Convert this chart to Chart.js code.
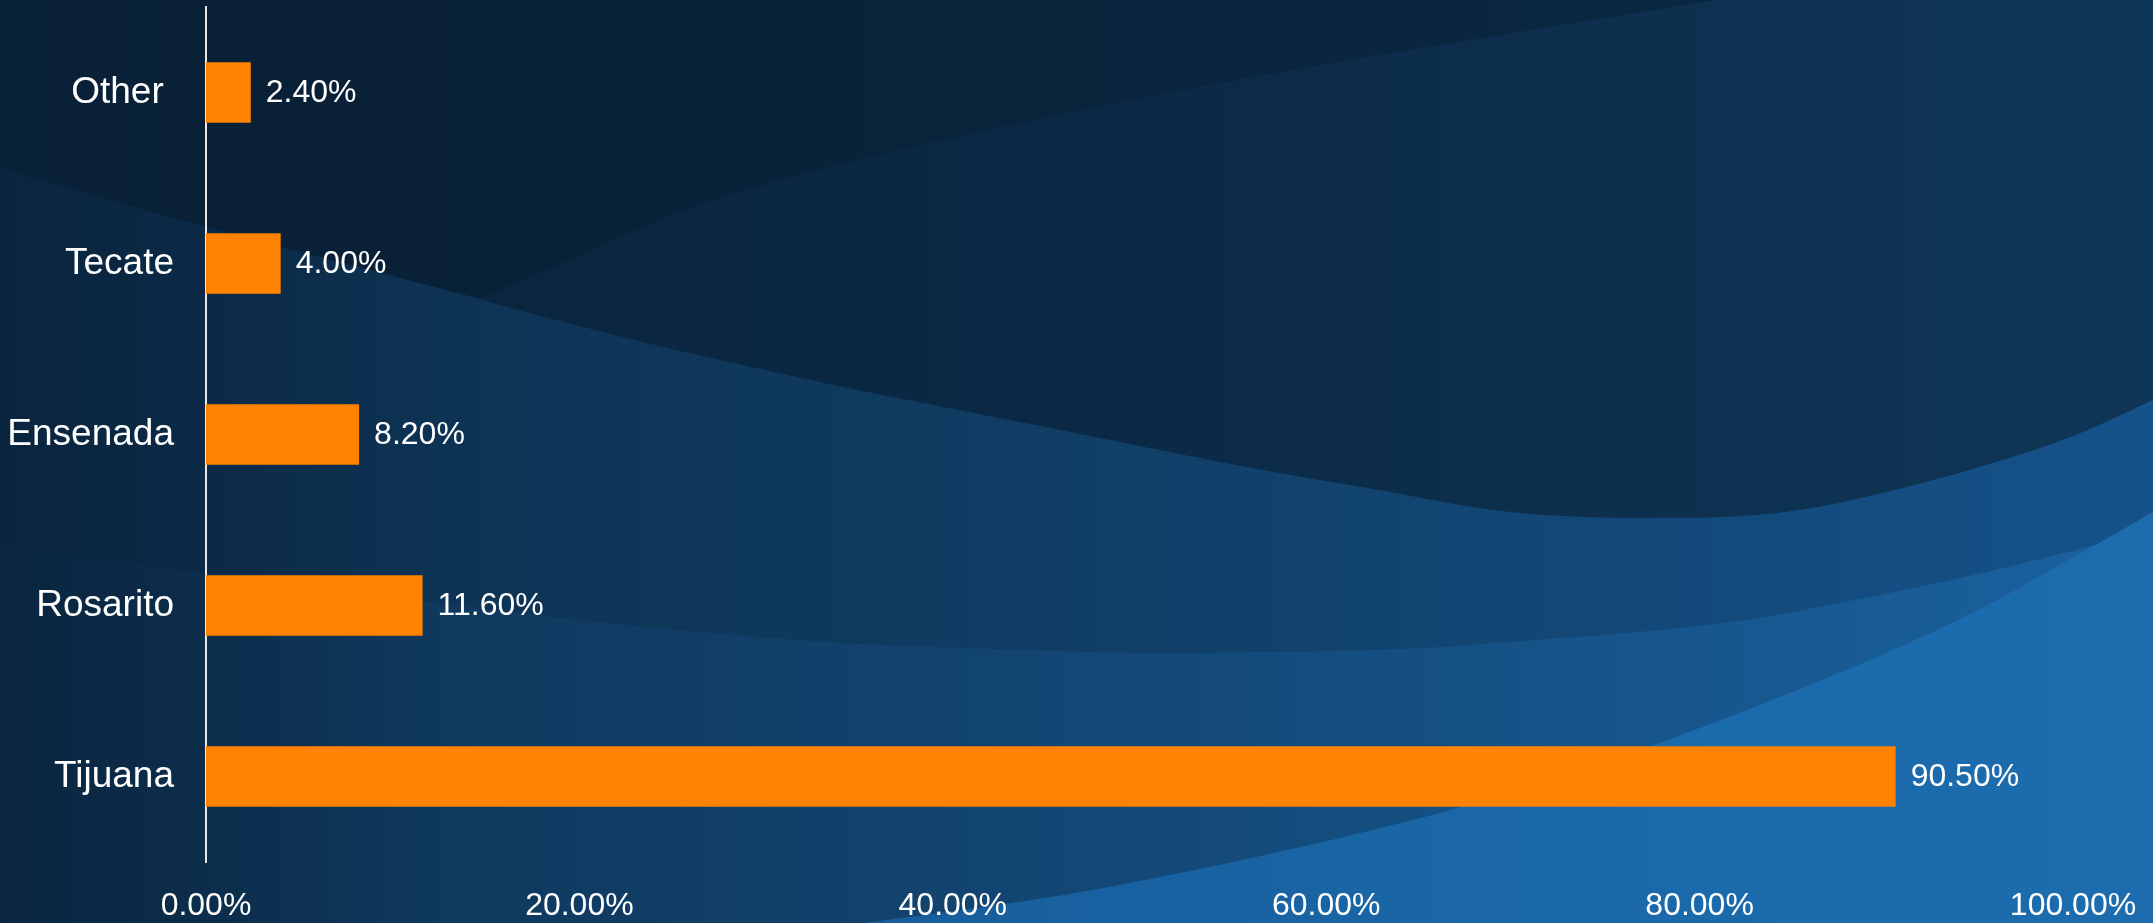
<!DOCTYPE html>
<html>
<head>
<meta charset="utf-8">
<title>Baja California</title>
<script src="https://cdn.jsdelivr.net/npm/chart.js@4.4.1/dist/chart.umd.min.js"></script>
<style>
  html, body { margin: 0; padding: 0; background: #0d2d4b; overflow: hidden; }
  #wrap { position: relative; width: 2153px; height: 923px; }
</style>
</head>
<body>
<div id="wrap"><canvas id="bar-chart"></canvas></div>
<script>
// Chart data (top to bottom)
const cities = ["Other ", "Tecate", "Ensenada", "Rosarito", "Tijuana"];
const shares = [2.4, 4.0, 8.2, 11.6, 90.5];
const xTicks = [0, 20, 40, 60, 80, 100];

Chart.defaults.font.family = "'Liberation Sans', Arial, sans-serif";
Chart.defaults.color = "#ffffff";

// smooth curve through a list of points (catmull-rom -> bezier)
function curveThrough(ctx, pts) {
  for (let i = 0; i < pts.length - 1; i++) {
    const p0 = pts[i - 1] || pts[i];
    const p1 = pts[i];
    const p2 = pts[i + 1];
    const p3 = pts[i + 2] || p2;
    ctx.bezierCurveTo(
      p1[0] + (p2[0] - p0[0]) / 6, p1[1] + (p2[1] - p0[1]) / 6,
      p2[0] - (p3[0] - p1[0]) / 6, p2[1] - (p3[1] - p1[1]) / 6,
      p2[0], p2[1]
    );
  }
}

function hGrad(ctx, w, stops) {
  const g = ctx.createLinearGradient(0, 0, w, 0);
  stops.forEach((s) => g.addColorStop(s[0], s[1]));
  return g;
}

// background swooshes
const backdrop = {
  id: "backdrop",
  beforeDraw(chart) {
    const ctx = chart.ctx;
    const w = chart.width;
    const h = chart.height;
    ctx.save();

    // middle band (base)
    ctx.fillStyle = hGrad(ctx, w, [[0, "#0c2b48"], [0.45, "#0f3c62"], [1, "#15528a"]]);
    ctx.fillRect(0, 0, w, h);

    // top dark region
    const topCurve = [[0, 168], [206, 227], [412, 281], [618, 336], [824, 383], [1030, 424],
      [1236, 465], [1373, 489], [1510, 512], [1648, 518], [1785, 512], [1922, 483], [2060, 441], [2153, 400]];
    ctx.beginPath();
    ctx.moveTo(0, 0);
    ctx.lineTo(0, 168);
    curveThrough(ctx, topCurve);
    ctx.lineTo(w, 0);
    ctx.closePath();
    ctx.fillStyle = hGrad(ctx, w, [[0, "#0a2239"], [0.5, "#0b2945"], [1, "#0f3657"]]);
    ctx.fill();

    // darkest top-left corner
    ctx.beginPath();
    ctx.moveTo(0, 0);
    ctx.lineTo(1716, 0);
    curveThrough(ctx, [[1716, 0], [1236, 80], [900, 150], [700, 205], [570, 260], [480, 298]]);
    curveThrough(ctx, [[480, 298], [412, 281], [206, 227], [0, 168]]);
    ctx.closePath();
    ctx.fillStyle = "rgba(7, 27, 46, 0.4)";
    ctx.fill();

    // lower band
    const lowCurve = [[0, 542], [206, 574], [412, 600], [618, 624], [824, 642], [1030, 650],
      [1167, 653], [1373, 650], [1510, 642], [1716, 624], [1854, 600], [1991, 571], [2153, 530]];
    ctx.beginPath();
    ctx.moveTo(0, 542);
    curveThrough(ctx, lowCurve);
    ctx.lineTo(w, h);
    ctx.lineTo(0, h);
    ctx.closePath();
    ctx.fillStyle = hGrad(ctx, w, [[0, "#0d2f4e"], [0.45, "#124470"], [1, "#1a62a0"]]);
    ctx.fill();

    // bright bottom right
    const brightCurve = [[865, 923], [1098, 889], [1373, 830], [1579, 771], [1785, 695],
      [1950, 624], [2060, 565], [2153, 512]];
    ctx.beginPath();
    ctx.moveTo(865, 923);
    curveThrough(ctx, brightCurve);
    ctx.lineTo(w, h);
    ctx.closePath();
    ctx.fillStyle = hGrad(ctx, w, [[0.4, "#175d9b"], [0.8, "#1b6aab"], [1, "#1c6cae"]]);
    ctx.fill();

    // left edge vignette
    const v = ctx.createLinearGradient(0, 0, 420, 0);
    v.addColorStop(0, "rgba(9, 34, 58, 0.7)");
    v.addColorStop(1, "rgba(9, 34, 58, 0)");
    ctx.fillStyle = v;
    ctx.fillRect(0, 0, 420, h);

    ctx.restore();
  }
};

// value labels at the end of each bar
const valueLabels = {
  id: "valueLabels",
  afterDatasetsDraw(chart) {
    const ctx = chart.ctx;
    const meta = chart.getDatasetMeta(0);
    ctx.save();
    ctx.fillStyle = "#ffffff";
    ctx.font = "32px 'Liberation Sans', Arial, sans-serif";
    ctx.textAlign = "left";
    ctx.textBaseline = "middle";
    meta.data.forEach((bar, i) => {
      ctx.fillText(shares[i].toFixed(2) + "%", bar.x + 15, bar.y + 1);
    });
    ctx.restore();
  }
};

const barChart = document.getElementById("bar-chart");
const barChartContext = barChart.getContext("2d");

new Chart(barChartContext, {
  type: "bar",
  data: {
    labels: cities,
    datasets: [
      {
        label: "Share",
        data: shares,
        backgroundColor: "#ff8300",
        borderWidth: 0,
        categoryPercentage: 1,
        barPercentage: 0.354,
      },
    ],
  },
  options: {
    indexAxis: "y",
    responsive: true,
    maintainAspectRatio: false,
    animation: false,
    layout: { padding: { top: 7, right: 80, bottom: 0, left: 0 } },
    plugins: {
      legend: { display: false },
      tooltip: { enabled: false },
    },
    scales: {
      x: {
        type: "linear",
        min: 0,
        max: 100,
        afterBuildTicks: (scale) => {
          scale.ticks = xTicks.map((v) => ({ value: v }));
        },
        afterFit: (scale) => {
          scale.height = 61;
          scale.paddingLeft = 0;
          scale.paddingRight = 0;
        },
        grid: { display: false, drawTicks: false },
        border: { display: false },
        ticks: {
          color: "#ffffff",
          font: { size: 32 },
          padding: 25,
          maxRotation: 0,
          callback: (v) => Number(v).toFixed(2) + "%",
        },
      },
      y: {
        type: "category",
        afterFit: (scale) => {
          scale.width = 206;
          scale.paddingTop = 0;
          scale.paddingBottom = 0;
        },
        grid: { display: false, drawTicks: false },
        border: { display: true, color: "#e6e6e6", width: 2 },
        ticks: {
          color: "#ffffff",
          font: { size: 37 },
          padding: 32,
        },
      },
    },
  },
  plugins: [backdrop, valueLabels],
});
</script>
</body>
</html>
